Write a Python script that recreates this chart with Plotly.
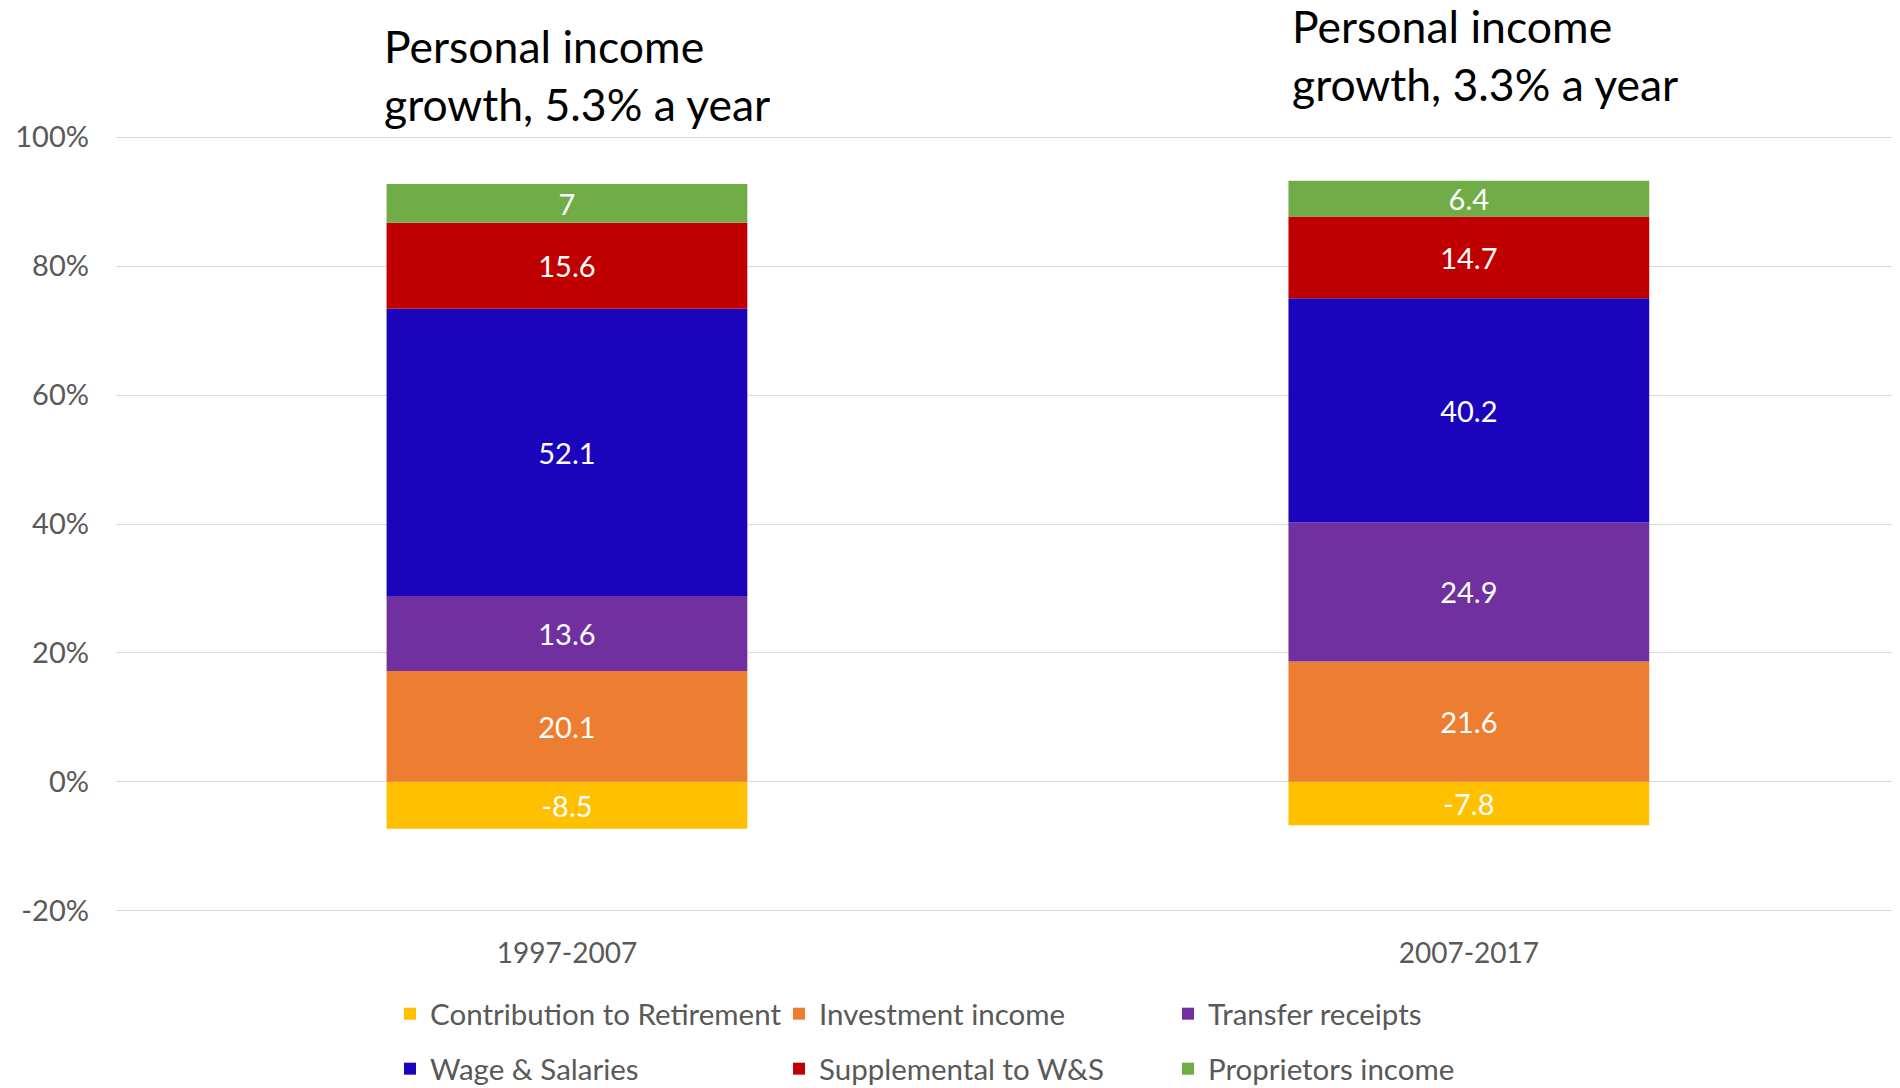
import plotly.graph_objects as go

CATEGORIES = ["1997-2007", "2007-2017"]

SERIES = [
    "Contribution to Retirement",
    "Investment income",
    "Transfer receipts",
    "Wage & Salaries",
    "Supplemental to W&S",
    "Proprietors income",
]
RETIREMENT = [-8.5, -7.8]
INVESTMENT = [20.1, 21.6]
TRANSFER = [13.6, 24.9]
WAGES = [52.1, 40.2]
SUPPLEMENTAL = [15.6, 14.7]
PROPRIETORS = [7, 6.4]
VALUES = [RETIREMENT, INVESTMENT, TRANSFER, WAGES, SUPPLEMENTAL, PROPRIETORS]

COLORS = ["#FFC000", "#ED7D31", "#7030A0", "#1A05BC", "#C00000", "#70AD47"]
TITLES = ["Personal income<br>growth, 5.3% a year", "Personal income<br>growth, 3.3% a year"]

Y_TICKS = [-20, 0, 20, 40, 60, 80, 100]
Y_TICK_LABELS = ["-20%", "0%", "20%", "40%", "60%", "80%", "100%"]

FONT = "Lato"
GREY = "#595959"

W, H = 1900, 1088
# the page places the figure 8px in from the top-left corner; positions below are in figure px
PAD = 3.2  # a little room so the 100% and -20% gridlines are drawn
ML, MR = 108, 0
MT = 129 - PAD
MB = H - (903 + PAD)
PW, PH = W - ML - MR, H - MT - MB


def px_x(px):
    return (px - ML) / PW


def px_y(py):
    return (H - MB - py) / PH


# 100% stacked column: each segment is its share of the column's total (absolute values)
totals = [sum(abs(series[i]) for series in VALUES) for i in range(len(CATEGORIES))]

fig = go.Figure()
for idx, (name, vals, color) in enumerate(zip(SERIES, VALUES, COLORS)):
    shares = [100.0 * v / t for v, t in zip(vals, totals)]
    fig.add_trace(go.Bar(
        x=CATEGORIES,
        y=shares,
        name=name,
        marker=dict(color=color, line=dict(width=0)),
        text=[f"{v:g}" for v in vals],
        textposition="inside",
        insidetextanchor="middle",
        textangle=0,
        textfont=dict(family=FONT, size=29, color="white"),
        legend="legend" if idx < 3 else "legend2",
        hoverinfo="skip",
    ))

legend_common = dict(
    orientation="h",
    xref="container", yref="container",
    xanchor="left", yanchor="middle",
    x=382 / W,
    entrywidth=344, entrywidthmode="pixels",
    font=dict(family=FONT, size=29.5, color=GREY),
    bgcolor="rgba(0,0,0,0)",
    traceorder="normal",
    itemclick=False, itemdoubleclick=False,
)

fig.update_layout(
    width=W, height=H,
    margin=dict(l=ML, r=MR, t=MT, b=MB, pad=0),
    paper_bgcolor="white", plot_bgcolor="white",
    barmode="relative",
    bargap=0.6,
    uniformtext=dict(minsize=29, mode="show"),
    showlegend=True,
    legend=dict(legend_common, y=1 - 1006 / H),
    legend2=dict(legend_common, y=1 - 1061 / H),
    xaxis=dict(
        type="category",
        range=[-0.5, -0.5 + PW / 901.9],
        showgrid=False, showline=False, zeroline=False,
        ticks="",
        tickfont=dict(family=FONT, size=28, color=GREY),
        ticklabelstandoff=20,
        fixedrange=True,
    ),
    yaxis=dict(
        range=[-20 - PAD * 120 / 774, 100 + PAD * 120 / 774],
        tickvals=Y_TICKS, ticktext=Y_TICK_LABELS,
        showgrid=True, gridcolor="#D9D9D9", gridwidth=1.3,
        zeroline=True, zerolinecolor="#D9D9D9", zerolinewidth=1.3,
        showline=False, ticks="",
        tickfont=dict(family=FONT, size=29, color=GREY),
        ticklabelstandoff=26,
        fixedrange=True,
    ),
    annotations=[
        dict(text=TITLES[0], xref="paper", yref="paper",
             x=px_x(374), y=px_y(9), xanchor="left", yanchor="top",
             align="left", showarrow=False,
             font=dict(family=FONT, size=44.5, color="black")),
        dict(text=TITLES[1], xref="paper", yref="paper",
             x=px_x(1282), y=px_y(-11), xanchor="left", yanchor="top",
             align="left", showarrow=False,
             font=dict(family=FONT, size=44.5, color="black")),
    ],
)

fig.write_html("out.html")
